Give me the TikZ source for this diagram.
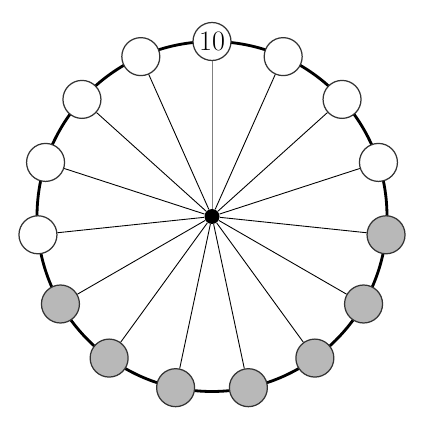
\documentclass[tikz,border=0pt]{standalone}
\usepackage{tikz}
\usetikzlibrary{positioning,calc}
\definecolor{seatgrey}{HTML}{B8B8B8}
\definecolor{spokegrey}{HTML}{808080}
\begin{document}
\begin{tikzpicture}[line join=round, x=0.02cm, y=0.02cm,
  seat/.style={circle,draw=black!80,line width=0.7pt,fill=white,minimum size=0.76cm,inner sep=0pt,font=\fontsize{16}{16}\selectfont},
  taken/.style={seat,fill=seatgrey},
  spoke/.style={line width=0.5pt}]
\useasboundingbox (-212,-211.5) rectangle (212,216.5);
\draw[line width=1.6pt] (0,0) circle (175); % table
\node[circle,fill=black,minimum size=0.3cm,inner sep=0pt] (c) at (0,0) {};
\node[seat] (n0) at (90:175) {10};
\foreach \i in {1,2,3,11,12,13,14}
  \node[seat] (n\i) at ({90-24*\i}:175) {};
\foreach \i in {4,...,10}
  \node[taken] (n\i) at ({90-24*\i}:175) {};
\draw[spoke,spokegrey] (c)--(n0);
\foreach \i in {1,...,14}
  \draw[spoke] (c)--(n\i);
\end{tikzpicture}
\end{document}
